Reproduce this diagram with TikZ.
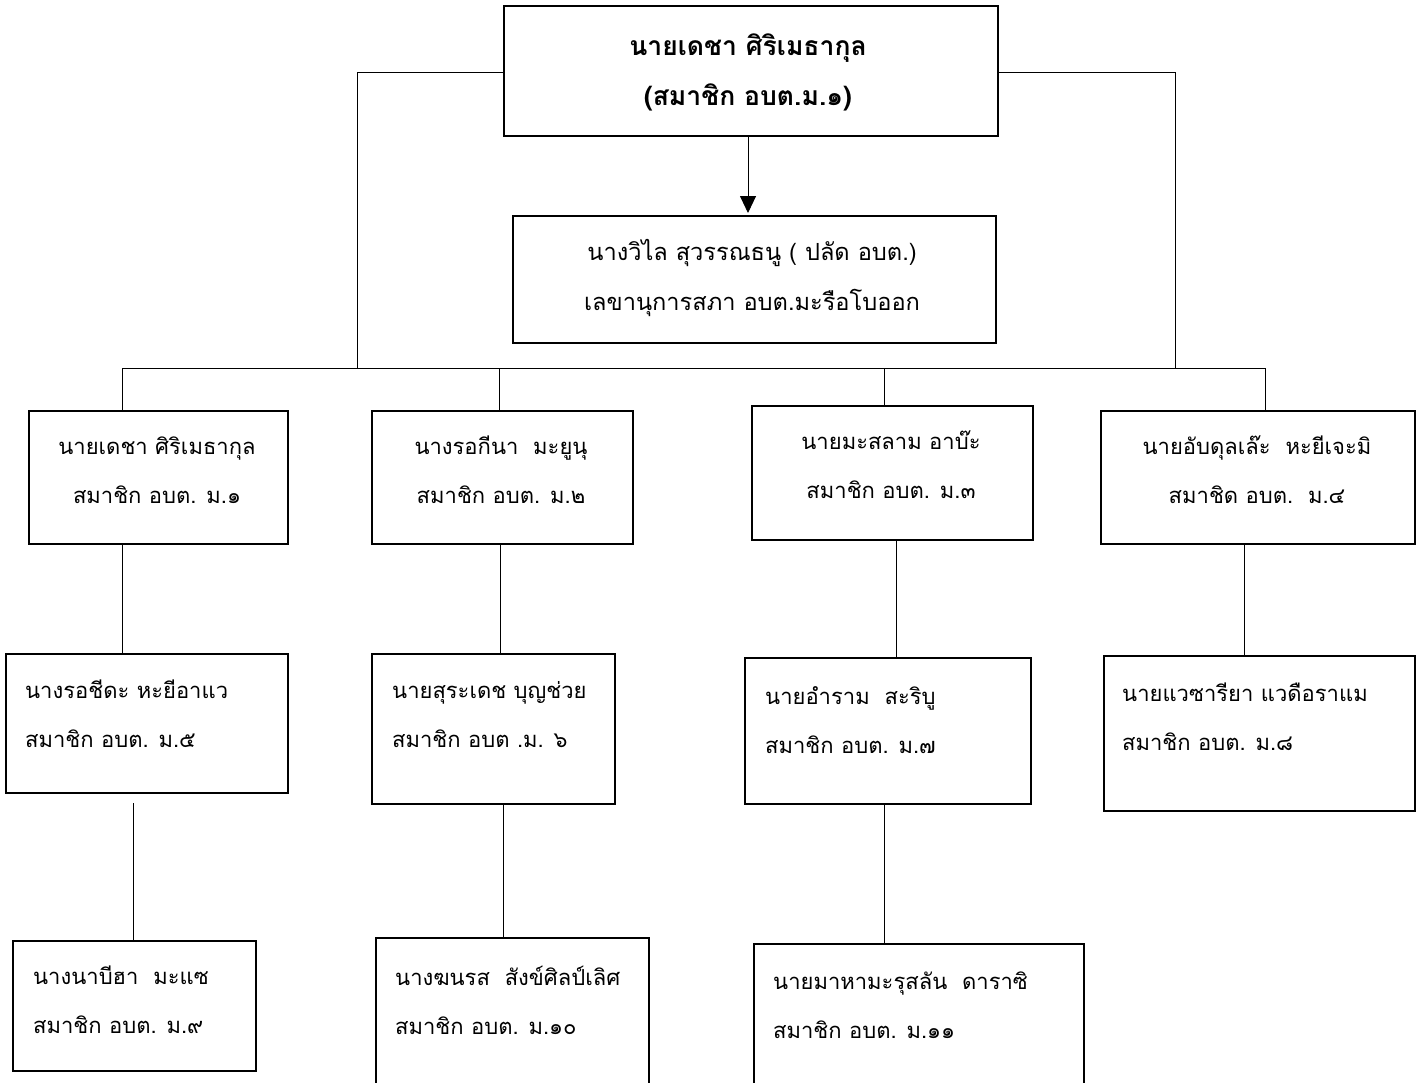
\documentclass[tikz,border=0pt]{standalone}
\usepackage{fontspec}
\newfontfamily\thai[Script=Thai]{Loma}
\usetikzlibrary{arrows.meta}
\begin{document}
\begin{tikzpicture}[x=1pt,y=-1pt,
  box/.style={draw, line width=1.6pt, rectangle, inner sep=0pt, anchor=north west},
  conn/.style={draw, line width=0.9pt},
  txt/.style={font=\thai\fontsize{22}{49}\selectfont, inner sep=0pt},
  sectxt/.style={font=\thai\fontsize{23.6}{50}\selectfont, inner sep=0pt, align=center},
  ttl/.style={font=\thai\bfseries\fontsize{26.5}{50}\selectfont, inner sep=0pt, align=center},
]
\useasboundingbox[fill=white] (0,0) rectangle (1423,1082);
% boxes
\node[box, minimum width=494pt, minimum height=130pt] (top) at (503,5) {};
\node[box, minimum width=483pt, minimum height=127pt] (sec) at (512,215) {};
\node[box, minimum width=259pt, minimum height=133pt] (b1) at (28,410) {};
\node[box, minimum width=261pt, minimum height=133pt] (b2) at (371,410) {};
\node[box, minimum width=281pt, minimum height=134pt] (b3) at (751,405) {};
\node[box, minimum width=314pt, minimum height=133pt] (b4) at (1100,410) {};
\node[box, minimum width=282pt, minimum height=139pt] (c1) at (5,653) {};
\node[box, minimum width=243pt, minimum height=150pt] (c2) at (371,653) {};
\node[box, minimum width=286pt, minimum height=146pt] (c3) at (744,657) {};
\node[box, minimum width=311pt, minimum height=155pt] (c4) at (1103,655) {};
\node[box, minimum width=243pt, minimum height=130pt] (d1) at (12,940) {};
\node[box, minimum width=273pt, minimum height=160pt] (d2) at (375,937) {};
\node[box, minimum width=330pt, minimum height=155pt] (d3) at (753,943) {};
% texts
\node[ttl] (ttop) at (748,72) {นายเดชา ศิริเมธากุล\\(สมาชิก อบต.ม.๑)};
\node[sectxt] (tsec) at (752,278) {นางวิไล สุวรรณธนู ( ปลัด อบต.)\\เลขานุการสภา อบต.มะรือโบออก};
\node[txt, align=center] (tb1) at (157,470) {นายเดชา ศิริเมธากุล\\สมาชิก อบต. ม.๑};
\node[txt, align=center] (tb2) at (501,470) {นางรอกีนา\ \ มะยูนุ\\สมาชิก อบต. ม.๒};
\node[txt, align=center] (tb3) at (891,465) {นายมะสลาม อาบ๊ะ\\สมาชิก อบต. ม.๓};
\node[txt, align=center] (tb4) at (1257,470) {นายอับดุลเล๊ะ\ \ หะยีเจะมิ\\สมาชิด อบต.\ \ ม.๔};
\node[txt, align=left, anchor=west] (tc1) at (25,714) {นางรอชีดะ หะยีอาแว\\สมาชิก อบต. ม.๕};
\node[txt, align=left, anchor=west] (tc2) at (392,715) {นายสุระเดช บุญช่วย\\สมาชิก อบต .ม. ๖};
\node[txt, align=left, anchor=west] (tc3) at (765,720) {นายอำราม\ \ สะริบู\\สมาชิก อบต. ม.๗};
\node[txt, align=left, anchor=west] (tc4) at (1122,717) {นายแวซารียา แวดือราแม\\สมาชิก อบต. ม.๘};
\node[txt, align=left, anchor=west] (td1) at (33,1000) {นางนาบีฮา\ \ มะแซ\\สมาชิก อบต. ม.๙};
\node[txt, align=left, anchor=west] (td2) at (395,1000) {นางฆนรส\ \ สังข์ศิลป์เลิศ\\สมาชิก อบต. ม.๑๐};
\node[txt, align=left, anchor=west] (td3) at (773,1005) {นายมาหามะรุสลัน\ \ ดาราซิ\\สมาชิก อบต. ม.๑๑};
% connectors
\coordinate (jl) at (357,368);
\coordinate (jr) at (1175,368);
\coordinate (p1) at (122,368);
\coordinate (p2) at (499,368);
\coordinate (p3) at (884,368);
\coordinate (p4) at (1265,368);
\draw[conn] (top.west |- 0,72) -| (jl);
\draw[conn] (top.east |- 0,72) -| (jr);
\draw[conn] (p1) -- (p4);
\draw[conn] (p1) -- (p1 |- b1.north);
\draw[conn] (p2) -- (p2 |- b2.north);
\draw[conn] (p3) -- (p3 |- b3.north);
\draw[conn] (p4) -- (p4 |- b4.north);
\draw[conn, -{Triangle[length=17pt,width=16pt]}] (748,135) -- (748,213);
\coordinate (q1) at (122,543);
\coordinate (q2) at (500,543);
\coordinate (q3) at (896,539);
\coordinate (q4) at (1244,543);
\draw[conn] (q1) -- (q1 |- c1.north);
\draw[conn] (q2) -- (q2 |- c2.north);
\draw[conn] (q3) -- (q3 |- c3.north);
\draw[conn] (q4) -- (q4 |- c4.north);
\coordinate (r1) at (133,803);
\coordinate (r2) at (503,803);
\coordinate (r3) at (884,803);
\draw[conn] (r1) -- (r1 |- d1.north);
\draw[conn] (r2) -- (r2 |- d2.north);
\draw[conn] (r3) -- (r3 |- d3.north);
\end{tikzpicture}
\end{document}
